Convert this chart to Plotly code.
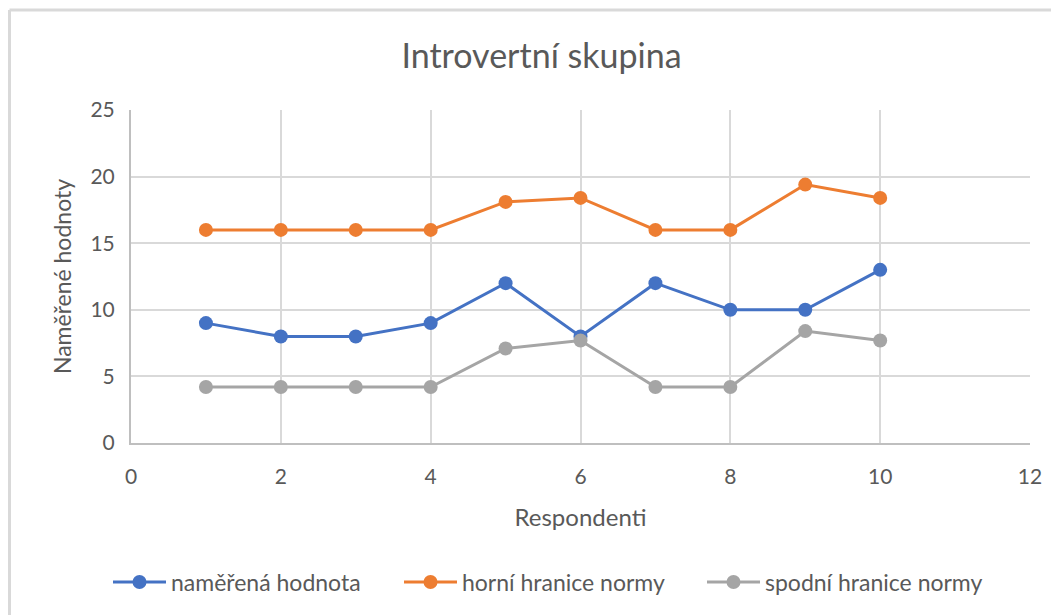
import plotly.graph_objects as go

respondenti = [1, 2, 3, 4, 5, 6, 7, 8, 9, 10]
namerena = [9, 8, 8, 9, 12, 8, 12, 10, 10, 13]
horni = [16, 16, 16, 16, 18.1, 18.4, 16, 16, 19.4, 18.4]
spodni = [4.2, 4.2, 4.2, 4.2, 7.1, 7.7, 4.2, 4.2, 8.4, 7.7]

series = [
    ("naměřená hodnota", namerena, "#4472C4"),
    ("horní hranice normy", horni, "#ED7D31"),
    ("spodní hranice normy", spodni, "#A5A5A5"),
]

FONT = "Lato"
TXT = "#595959"
W, H = 1051, 607          # page body has an 8px margin
L, T, R, B = 123, 102, 29, 172
PW, PH = W - L - R, H - T - B

legend_ids = ["legend", "legend2", "legend3"]
legend_left_px = [100, 391, 694]   # figure px of each legend's left edge

fig = go.Figure()
for (name, vals, col), lid in zip(series, legend_ids):
    fig.add_trace(go.Scatter(
        x=respondenti, y=vals, name=name, mode="lines+markers",
        line=dict(color=col, width=3),
        marker=dict(color=col, size=14),
        legend=lid,
    ))

legend_common = dict(orientation="h", xanchor="left",
                     y=(435 - 574) / PH, yanchor="middle",
                     font=dict(size=23, color=TXT), itemwidth=53,
                     bgcolor="rgba(0,0,0,0)")

layout_legends = {}
for lid, px in zip(legend_ids, legend_left_px):
    layout_legends[lid] = dict(legend_common, x=(px - L) / PW)

fig.update_layout(
    width=W, height=H,
    paper_bgcolor="white", plot_bgcolor="white",
    margin=dict(l=L, r=R, t=T, b=B, autoexpand=False),
    font=dict(family=FONT, color=TXT, size=20),
    title=dict(text="Introvertní skupina", x=((400 + 683) / 2 - 8) / W,
               xanchor="center", y=1 - (56 - 8) / H, yanchor="middle",
               font=dict(size=34, color=TXT, family=FONT)),
    xaxis=dict(range=[0, 12], dtick=2, showgrid=True, gridcolor="#D9D9D9",
               gridwidth=2, showline=True, linecolor="#BFBFBF", linewidth=2,
               zeroline=False, ticks="", ticklabelstandoff=14,
               title=dict(text="Respondenti", font=dict(size=24, color=TXT), standoff=22),
               tickfont=dict(size=21, color=TXT)),
    yaxis=dict(range=[0, 25], dtick=5, showgrid=True, gridcolor="#D9D9D9",
               gridwidth=2, showline=True, linecolor="#BFBFBF", linewidth=2,
               zeroline=False, ticks="", ticklabelstandoff=10,
               title=dict(text="Naměřené hodnoty", font=dict(size=23, color=TXT), standoff=12),
               tickfont=dict(size=21, color=TXT)),
    showlegend=True,
    **layout_legends,
)

# outer chart frame (left and top edges visible)
fx = (1.5 - L) / PW
fy = 1 + (T - 2) / PH
fig.add_shape(type="line", xref="paper", yref="paper",
              x0=fx, x1=fx, y0=fy, y1=-B / PH - 0.1,
              line=dict(color="#D9D9D9", width=3))
fig.add_shape(type="line", xref="paper", yref="paper",
              x0=fx, x1=1 + R / PW + 0.1, y0=fy, y1=fy,
              line=dict(color="#D9D9D9", width=3))

fig.write_html("out.html")
